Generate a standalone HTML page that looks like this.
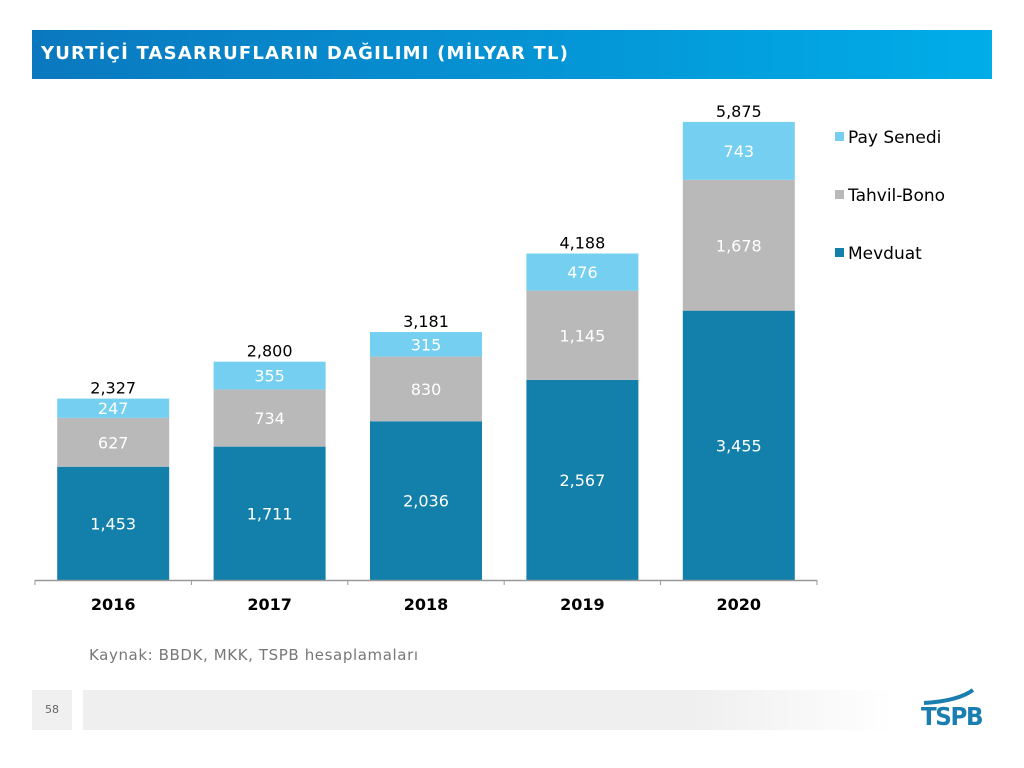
<!DOCTYPE html>
<html><head><meta charset="utf-8"><style>
body{margin:0;width:1024px;height:768px;background:#fff;position:relative;overflow:hidden;font-family:"DejaVu Sans","Liberation Sans",sans-serif}
#hdr{position:absolute;left:32px;top:30px;width:960px;height:49px;background:linear-gradient(90deg,#0a78bf,#00ade8)}
#hdr span{position:absolute;left:9px;top:13px;color:#fff;font-weight:bold;font-size:18px;letter-spacing:1.2px}
</style></head><body>
<div id="hdr"><span>YURTİÇİ TASARRUFLARIN DAĞILIMI (MİLYAR TL)</span></div>
<svg id="c" width="1024" height="768" style="position:absolute;left:0;top:0"></svg>
<div style="position:absolute;left:89px;top:646px;font-size:15px;letter-spacing:0.6px;color:#777">Kaynak: BBDK, MKK, TSPB hesaplamaları</div>
<div style="position:absolute;left:32px;top:690px;width:40px;height:40px;background:#f0f0f0;font-size:11px;color:#666;line-height:40px;text-align:center">58</div>
<div style="position:absolute;left:83px;top:690px;width:812px;height:40px;background:linear-gradient(90deg,#efefef 0%,#efefef 75%,#fff 100%)"></div>
<div style="position:absolute;left:921px;top:702px;font-weight:bold;font-size:25px;color:#1a7fb0;letter-spacing:-1.5px;transform:scaleX(0.92);transform-origin:left">TSPB</div>
<svg width="1024" height="768" style="position:absolute;left:0;top:0;pointer-events:none"><path d="M924 703 Q958 701 973 690" stroke="#1a7fb0" stroke-width="4" fill="none"/></svg>
<script>
const categories=["2016","2017","2018","2019","2020"];
const mevduat=[1453,1711,2036,2567,3455];
const tahvil=[627,734,830,1145,1678];
const pay=[247,355,315,476,743];
const totals=[2327,2800,3181,4188,5875];
const seriesNames=["Pay Senedi","Tahvil-Bono","Mevduat"];
const NS="http://www.w3.org/2000/svg",svg=document.getElementById('c');
const base=580,k=458/5875,x0=35,pitch=156.4,bw=112;
const y=v=>base-v*k, xc=i=>x0+pitch*(i+0.5);
const fmt=v=>v.toLocaleString('en-US');
function el(t,a,txt){const e=document.createElementNS(NS,t);for(const q in a)e.setAttribute(q,a[q]);if(txt!=null)e.textContent=txt;svg.appendChild(e);return e;}
const cols=["#1380ab","#b9b9b9","#74cff0"];
const series=[mevduat,tahvil,pay];
categories.forEach((c,i)=>{
 let acc=0;
 series.forEach((s,j)=>{
  const v=s[i];const y1=y(acc+v),h=v*k;
  const r=el('rect',{x:xc(i)-bw/2,y:y1,width:bw,height:h,fill:cols[j]});
  
  
  const t=el('text',{x:xc(i),y:y1+h/2+6,'text-anchor':'middle','font-size':16,fill:'#fff'},fmt(v));
  
  
  acc+=v;
 });
 const tt=el('text',{x:xc(i),y:y(totals[i])-5,'text-anchor':'middle','font-size':16,fill:'#000'},fmt(totals[i]));
 
 
 const cl=el('text',{x:xc(i),y:610,'text-anchor':'middle','font-size':16,'font-weight':'bold',fill:'#000'},c);
 
 
});
const ax=el('line',{x1:x0,x2:x0+pitch*5,y1:base+0.5,y2:base+0.5,stroke:'#999','stroke-width':1.5});


for(let i=0;i<=5;i++){const tk=el('line',{x1:x0+pitch*i,x2:x0+pitch*i,y1:base,y2:base+5,stroke:'#999'});

}
const lc=["#74cff0","#b9b9b9","#1380ab"];
seriesNames.forEach((n,j)=>{
 const ly=137+58*j;
 const r=el('rect',{x:835,y:ly-5,width:9,height:9,fill:lc[j]});
 
 
 const t=el('text',{x:848,y:ly+6,'font-size':17,fill:'#000'},n);
 
 
});
</script>
</body></html>
